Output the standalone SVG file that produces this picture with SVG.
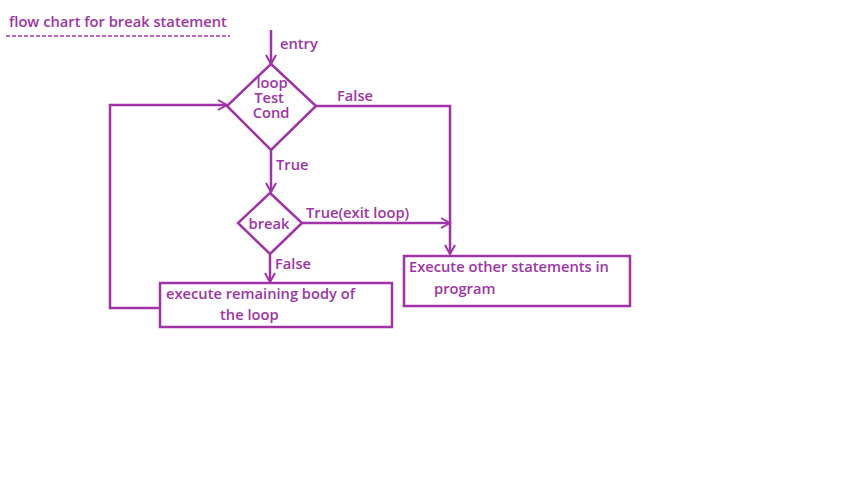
<svg xmlns="http://www.w3.org/2000/svg" width="841" height="485" viewBox="0 0 841 485">
<defs>
<marker id="ah" markerWidth="12" markerHeight="12" refX="10" refY="6" orient="auto" markerUnits="userSpaceOnUse">
<path d="M1,1 L10,6 L1,11" fill="none" stroke="#A033A8" stroke-width="2"/>
</marker>
<style>
.t{font-family:"Open Sans","Noto Sans",sans-serif;font-weight:600;fill:#9E35A5;font-size:14.7px}
.l{fill:none;stroke:#A033A8;stroke-width:2.5}
</style>
</defs>
<rect width="841" height="485" fill="#fff"/>
<g id="title">
<text class="t" x="9" y="27" font-size="16.2">flow chart for break statement</text>
<line x1="6" y1="36" x2="230" y2="36" stroke="#A033A8" stroke-width="1.5" stroke-dasharray="4,2"/>
</g>
<g id="connectors">
<line class="l" x1="271" y1="30" x2="271" y2="64" marker-end="url(#ah)"/>
<text class="t" x="280" y="49">entry</text>
<polyline class="l" points="316,106 450,106 450,254" marker-end="url(#ah)"/>
<text class="t" x="337" y="101">False</text>
<line class="l" x1="271" y1="150" x2="271" y2="192" marker-end="url(#ah)"/>
<text class="t" x="276" y="170">True</text>
<line class="l" x1="302" y1="223" x2="450" y2="223" marker-end="url(#ah)"/>
<text class="t" x="306" y="218">True(exit loop)</text>
<line class="l" x1="270" y1="254" x2="270" y2="282" marker-end="url(#ah)"/>
<text class="t" x="275" y="269">False</text>
<polyline class="l" points="160,308 110,308 110,105 227,105" marker-end="url(#ah)"/>
</g>
<g id="loopTest">
<polygon class="l" points="271,64 316,106 271,150 227,106"/>
<text class="t" x="272" y="88" text-anchor="middle" font-size="14">loop</text>
<text class="t" x="269" y="103" text-anchor="middle" font-size="14">Test</text>
<text class="t" x="271" y="118" text-anchor="middle" font-size="14">Cond</text>
</g>
<g id="break">
<polygon class="l" points="270,193 302,223 270,254 238,223"/>
<text class="t" x="269" y="229" text-anchor="middle">break</text>
</g>
<g id="body">
<rect class="l" x="160" y="283" width="232" height="44"/>
<text class="t" x="166" y="299">execute remaining body of</text>
<text class="t" x="220" y="320">the loop</text>
</g>
<g id="other">
<rect class="l" x="404" y="256" width="226" height="50"/>
<text class="t" x="409" y="272">Execute other statements in</text>
<text class="t" x="434" y="294">program</text>
</g>
</svg>
